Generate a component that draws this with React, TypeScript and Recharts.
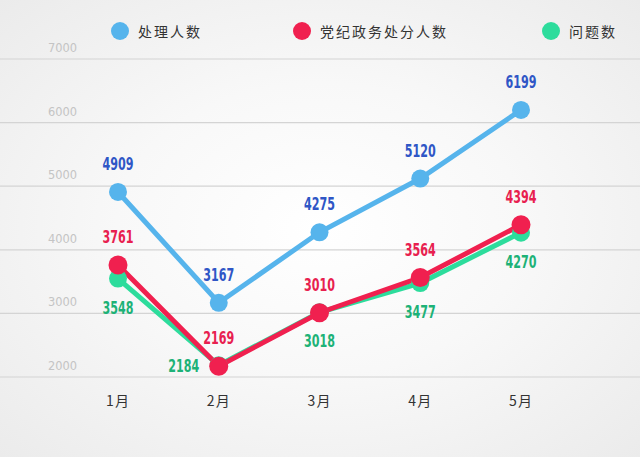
import { LineChart, Line, XAxis, YAxis, CartesianGrid, LabelList } from "recharts";

const months = ["1月", "2月", "3月", "4月", "5月"];
const handled = [4909, 3167, 4275, 5120, 6199];
const punished = [3761, 2169, 3010, 3564, 4394];
const issues = [3548, 2184, 3018, 3477, 4270];
const yTicks = [2000, 3000, 4000, 5000, 6000, 7000];

const seriesNames = ["处理人数", "党纪政务处分人数", "问题数"];

const data = months.map((m, i) => ({
  month: m,
  handled: handled[i],
  punished: punished[i],
  issues: issues[i],
}));

const BLUE = "#56b4ec";
const RED = "#f0204f";
const GREEN = "#2ddc9c";
const BLUE_TXT = "#2f56c6";
const RED_TXT = "#e8204f";
const GREEN_TXT = "#1db277";

const numFont = "'DejaVu Sans Condensed', 'DejaVu Sans', sans-serif";
const cjkFont = "'Noto Sans CJK SC', 'Noto Sans', sans-serif";

const legendItems = [
  { name: seriesNames[0], color: BLUE, left: 111 },
  { name: seriesNames[1], color: RED, left: 293 },
  { name: seriesNames[2], color: GREEN, left: 542 },
];

function makeLabel(color: string, place: "above" | "below") {
  return (props: any) => {
    const { x, y, value, index } = props;
    let tx = x;
    let ty = place === "above" ? y - 22 : y + 35;
    // Feb point of 问题数 sits on the red one; its label goes to the left
    if (place === "below" && index === 1) {
      tx = x - 35;
      ty = y + 7;
    }
    return (
      <text
        x={tx}
        y={ty}
        textAnchor="middle"
        fill={color}
        fontSize={18}
        fontWeight="bold"
        fontFamily={numFont}
        style={{ fontStretch: "condensed" }}
        textLength={31}
        lengthAdjust="spacingAndGlyphs"
      >
        {value}
      </text>
    );
  };
}

const YTick = (props: any) => {
  const { y, payload } = props;
  return (
    <text
      x={48}
      y={y - 7}
      textAnchor="start"
      fill="#c4c4c4"
      fontSize={12}
      fontFamily={numFont}
      textLength={29}
      lengthAdjust="spacingAndGlyphs"
    >
      {payload.value}
    </text>
  );
};

const XTick = (props: any) => {
  const { x, y, payload } = props;
  return (
    <text
      x={x}
      y={y + 21}
      textAnchor="middle"
      fill="#333"
      fontSize={14}
      fontFamily={cjkFont}
      letterSpacing={1}
    >
      {payload.value}
    </text>
  );
};

export default function App() {
  return (
    <div
      style={{
        position: "absolute",
        left: 0,
        top: 0,
        width: 640,
        height: 457,
        background:
          "radial-gradient(ellipse at 50% 50%, #ffffff 0%, #f8f8f8 45%, #ebebeb 100%)",
        overflow: "hidden",
      }}
    >
      {legendItems.map((it) => (
        <div
          key={it.name}
          style={{
            position: "absolute",
            left: it.left,
            top: 21,
            display: "flex",
            alignItems: "center",
            fontFamily: cjkFont,
            fontSize: 14,
            letterSpacing: 2,
            color: "#333",
          }}
        >
          <span
            style={{
              width: 18,
              height: 18,
              borderRadius: 9,
              background: it.color,
              display: "inline-block",
              marginRight: 9,
            }}
          />
          {it.name}
        </div>
      ))}
      <LineChart
        width={640}
        height={457}
        data={data}
        margin={{ top: 59, right: 0, left: -80, bottom: 40 }}
        style={{ position: "absolute", left: 0, top: 0 }}
      >
        <CartesianGrid vertical={false} stroke="#d4d4d4" strokeWidth={1.2} />
        <XAxis
          dataKey="month"
          axisLine={false}
          tickLine={false}
          height={40}
          padding={{ left: 118, right: 119 }}
          tick={<XTick />}
        />
        <YAxis
          width={80}
          domain={[2000, 7000]}
          ticks={yTicks}
          axisLine={false}
          tickLine={false}
          tick={<YTick />}
        />
        <Line
          dataKey="issues"
          name={seriesNames[2]}
          stroke={GREEN}
          strokeWidth={5}
          dot={{ r: 9, fill: GREEN, stroke: "none" }}
          isAnimationActive={false}
        >
          <LabelList dataKey="issues" content={makeLabel(GREEN_TXT, "below")} />
        </Line>
        <Line
          dataKey="punished"
          name={seriesNames[1]}
          stroke={RED}
          strokeWidth={5}
          dot={{ r: 9.5, fill: RED, stroke: "none" }}
          isAnimationActive={false}
        >
          <LabelList dataKey="punished" content={makeLabel(RED_TXT, "above")} />
        </Line>
        <Line
          dataKey="handled"
          name={seriesNames[0]}
          stroke={BLUE}
          strokeWidth={5}
          dot={{ r: 9, fill: BLUE, stroke: "none" }}
          isAnimationActive={false}
        >
          <LabelList dataKey="handled" content={makeLabel(BLUE_TXT, "above")} />
        </Line>
      </LineChart>
    </div>
  );
}
